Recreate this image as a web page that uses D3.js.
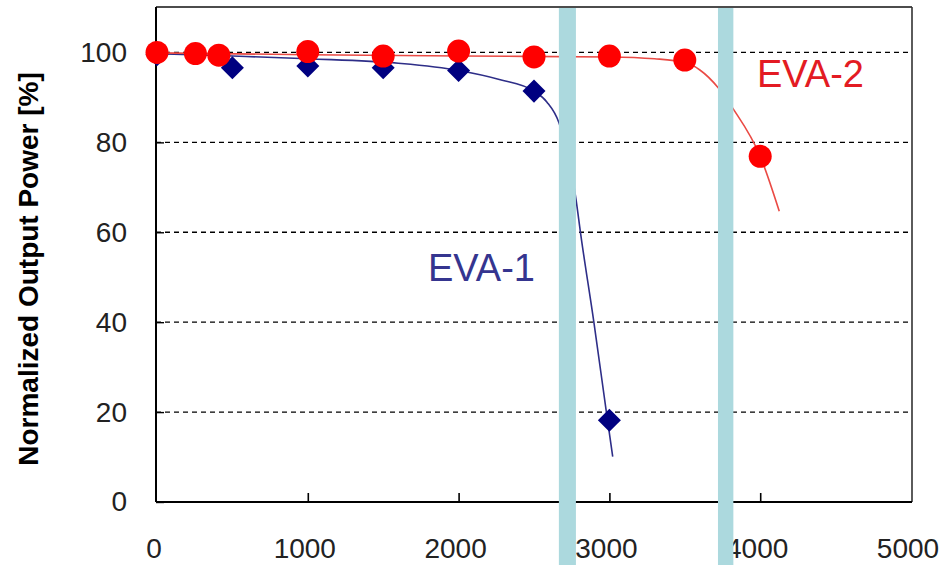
<!DOCTYPE html>
<html>
<head>
<meta charset="utf-8">
<script src="https://cdn.jsdelivr.net/npm/d3@7"></script>
<style>
  html, body { margin: 0; padding: 0; background: #fff; }
  svg { display: block; }
  text { font-family: "Liberation Sans", Arial, sans-serif; }
</style>
</head>
<body>
<svg id="chart" width="943" height="565"></svg>
<script>
// ---- data ----
const xTicks = [0, 1000, 2000, 3000, 4000, 5000];
const yTicks = [0, 20, 40, 60, 80, 100];
const yGrid = [20, 40, 60, 80, 100];

// EVA-1 measured points (navy diamonds)
const eva1X = [0, 500, 1000, 1500, 2000, 2500, 3000];
const eva1Y = [99.5, 96.6, 97.0, 96.6, 96.0, 91.4, 18.2];

// EVA-2 measured points (red circles)
const eva2X = [0, 255, 410, 1000, 1500, 2000, 2500, 3000, 3500, 4000];
const eva2Y = [100, 99.75, 99.4, 100.2, 99.2, 100.3, 99.0, 99.2, 98.3, 76.9];

// fitted trend curves
const fit1X = [0, 500, 1000, 1600, 2000, 2270, 2500, 2585, 2665, 2780, 2808, 2897, 2980, 3022];
const fit1Y = [99.75, 99.2, 98.6, 97.6, 96.0, 94.0, 91.4, 89.0, 84.4, 67.0, 60, 40, 20, 10.1];
const fit2X = [0, 1000, 2000, 3000, 3300, 3500, 3600, 3720, 3822, 4000, 4126];
const fit2Y = [99.9, 99.5, 99.2, 99.0, 98.6, 97.8, 96.1, 92.2, 87.4, 76.9, 64.7];

// highlighted vertical bands [start, end]
const bandStart = [2665, 3720];
const bandEnd = [2778, 3822];

const seriesLabels = ["EVA-1", "EVA-2"];
const yTitle = "Normalized Output Power [%]";

// ---- drawing ----
const svg = d3.select("#chart");
const x = d3.scaleLinear().domain([0, 5000]).range([157, 911]);
const y = d3.scaleLinear().domain([0, 110]).range([502, 7.5]);

// gridlines
svg.append("g").selectAll("line").data(yGrid).join("line")
  .attr("x1", 156).attr("x2", 912)
  .attr("y1", d => y(d)).attr("y2", d => y(d))
  .attr("stroke", "#000").attr("stroke-width", 1.3)
  .attr("stroke-dasharray", "5,4");

// frame top & right
svg.append("line").attr("x1", 156).attr("x2", 912).attr("y1", 7).attr("y2", 7)
  .attr("stroke", "#111").attr("stroke-width", 1.6);
svg.append("line").attr("x1", 912).attr("x2", 912).attr("y1", 7).attr("y2", 502)
  .attr("stroke", "#333").attr("stroke-width", 1.6);

// axes
const xAxis = d3.axisBottom(x).tickValues(xTicks.slice(1, 5)).tickSizeInner(-9).tickSizeOuter(0).tickFormat("");
const gx = svg.append("g").attr("transform", "translate(0,502)").call(xAxis);
gx.select(".domain").attr("stroke", "#000").attr("stroke-width", 2).attr("d", "M156,0H912");
gx.selectAll(".tick line").attr("stroke", "#000").attr("stroke-width", 1.6);

const yAxis = d3.axisLeft(y).tickValues(yTicks).tickSizeInner(-8).tickSizeOuter(0).tickPadding(29);
const gy = svg.append("g").attr("transform", "translate(156,0)").call(yAxis);
gy.select(".domain").attr("stroke", "#000").attr("stroke-width", 2).attr("d", "M0,7V502");
gy.selectAll(".tick line").attr("stroke", "#000").attr("stroke-width", 1.4);
gy.selectAll(".tick text").attr("font-size", 28).attr("fill", "#222")
  .attr("font-family", "'Liberation Sans', Arial, sans-serif");

// x tick labels
svg.append("g").selectAll("text").data(xTicks).join("text")
  .attr("x", d => x(d) - 3).attr("y", 558)
  .attr("text-anchor", "middle").attr("font-size", 28).attr("fill", "#222")
  .text(d => d);

// y title
svg.append("text")
  .attr("transform", "translate(38,269) rotate(-90)")
  .attr("text-anchor", "middle").attr("font-size", 28).attr("font-weight", "bold")
  .attr("fill", "#000").text(yTitle);

// fitted curves
const line = d3.line().x(d => x(d[0])).y(d => y(d[1])).curve(d3.curveMonotoneX);
svg.append("path").datum(d3.zip(fit1X, fit1Y)).attr("d", line)
  .attr("fill", "none").attr("stroke", "#2e2e88").attr("stroke-width", 1.6);
svg.append("path").datum(d3.zip(fit2X, fit2Y)).attr("d", line)
  .attr("fill", "none").attr("stroke", "#ea4a44").attr("stroke-width", 1.6);

// EVA-1 diamonds
const diamond = d3.symbol().type(d3.symbolSquare).size(265);
svg.append("g").selectAll("path").data(d3.zip(eva1X, eva1Y)).join("path")
  .attr("d", diamond)
  .attr("transform", d => `translate(${x(d[0])},${y(d[1])}) rotate(45)`)
  .attr("fill", "#000080");

// EVA-2 circles
svg.append("g").selectAll("circle").data(d3.zip(eva2X, eva2Y)).join("circle")
  .attr("cx", d => x(d[0])).attr("cy", d => y(d[1])).attr("r", 11.5)
  .attr("fill", "#ff0000");

// vertical bands (drawn on top)
svg.append("g").selectAll("rect").data(d3.zip(bandStart, bandEnd)).join("rect")
  .attr("x", d => x(d[0])).attr("width", d => x(d[1]) - x(d[0]))
  .attr("y", 8).attr("height", 565 - 8)
  .attr("fill", "#acd9de");

// series labels
svg.append("text").attr("x", 428).attr("y", 281).attr("font-size", 38)
  .attr("fill", "#35358f").text(seriesLabels[0]);
svg.append("text").attr("x", 757).attr("y", 87).attr("font-size", 38)
  .attr("fill", "#e31b23").text(seriesLabels[1]);
</script>
</body>
</html>
